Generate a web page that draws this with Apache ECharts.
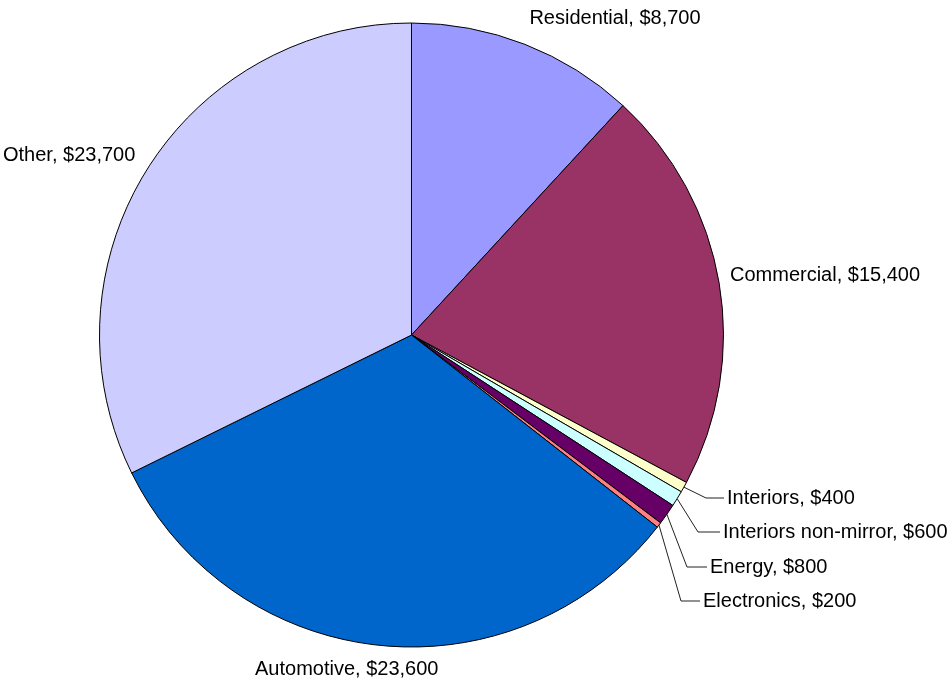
<!DOCTYPE html>
<html>
<head>
<meta charset="utf-8">
<script src="https://cdn.jsdelivr.net/npm/echarts@6/dist/echarts.min.js"></script>
<style>
  html, body { margin: 0; padding: 0; background: #ffffff; }
  #chart { width: 952px; height: 682px; }
</style>
</head>
<body>
<div id="chart"></div>
<script>
// Revenue by segment
const categories = ['Residential', 'Commercial', 'Interiors', 'Interiors non-mirror', 'Energy', 'Electronics', 'Automotive', 'Other'];
const values = [8700, 15400, 400, 600, 800, 200, 23600, 23700];

// Slice fill colours, in the same order as the categories
const sliceColors = ['#9999FF', '#993366', '#FFFFCC', '#CCFFFF', '#660066', '#FF8080', '#0066CC', '#CCCCFF'];

// Where each label sits; small slices get an elbowed leader line
const labelPlacement = [
  { x: 615, y: 18,  align: 'center' },
  { x: 730, y: 275, align: 'left' },
  { x: 727, y: 498, align: 'left', elbow: [706, 498], lineEnd: 724 },
  { x: 723, y: 532, align: 'left', elbow: [698, 532], lineEnd: 720 },
  { x: 710, y: 567, align: 'left', elbow: [687, 567], lineEnd: 707 },
  { x: 703, y: 601, align: 'left', elbow: [681, 601], lineEnd: 700 },
  { x: 255, y: 669, align: 'left' },
  { x: 3,   y: 155, align: 'left' }
];

const fmt = v => '$' + v.toLocaleString('en-US');

const seriesData = categories.map((name, i) => ({
  name: name,
  value: values[i],
  itemStyle: { color: sliceColors[i] },
  labelLine: { show: !!labelPlacement[i].elbow }
}));

const chart = echarts.init(document.getElementById('chart'), null, { renderer: 'canvas' });

chart.setOption({
  animation: false,
  backgroundColor: '#ffffff',
  series: [{
    type: 'pie',
    center: [411.5, 335],
    radius: 312,
    startAngle: 90,
    clockwise: true,
    avoidLabelOverlap: false,
    silent: true,
    data: seriesData,
    itemStyle: { borderColor: '#000000', borderWidth: 1 },
    emphasis: { disabled: true },
    label: {
      show: true,
      position: 'outside',
      formatter: p => p.name + ', ' + fmt(p.value),
      fontFamily: '"Liberation Sans", Arial, sans-serif',
      fontSize: 20,
      color: '#000000'
    },
    labelLine: {
      show: true,
      length: 20,
      length2: 20,
      smooth: false,
      lineStyle: { color: '#222222', width: 1 }
    },
    labelLayout: function (params) {
      const p = labelPlacement[params.dataIndex];
      const out = { x: p.x, y: p.y, align: p.align, verticalAlign: 'middle' };
      if (p.elbow && params.labelLinePoints) {
        const start = params.labelLinePoints[0];
        out.labelLinePoints = [start, p.elbow, [p.lineEnd, p.elbow[1]]];
      }
      return out;
    }
  }]
});
</script>
</body>
</html>
